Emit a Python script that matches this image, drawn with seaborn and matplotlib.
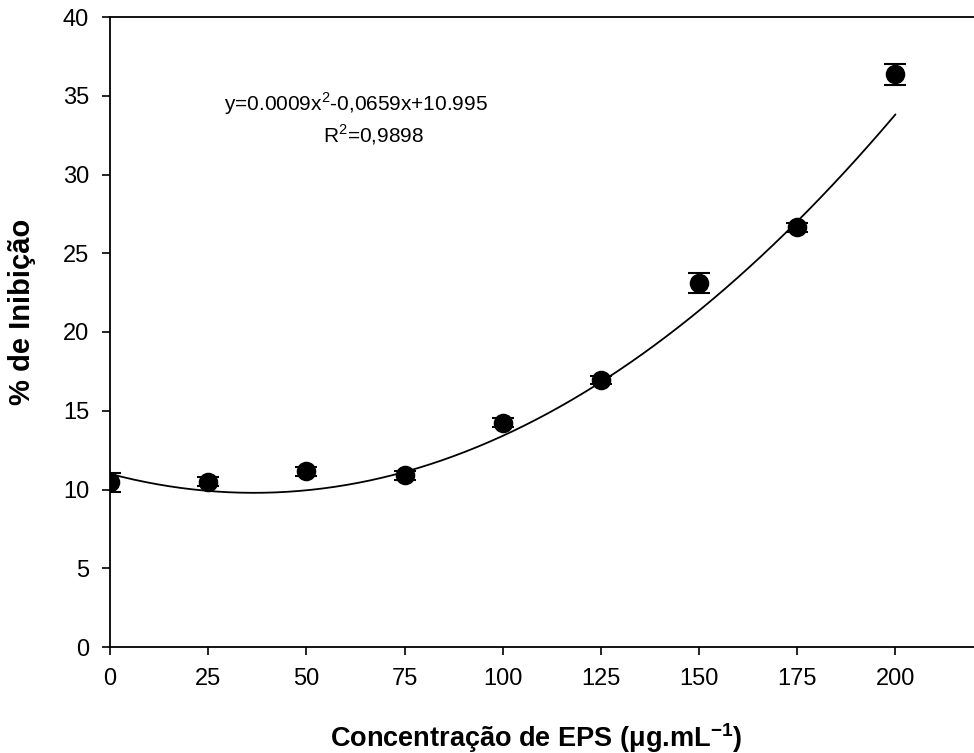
import matplotlib
matplotlib.use("Agg")
import matplotlib.pyplot as plt
import seaborn as sns
import numpy as np
import pandas as pd

conc = [0, 25, 50, 75, 100, 125, 150, 175, 200]
inhib = [10.45, 10.5, 11.15, 10.9, 14.25, 16.95, 23.1, 26.65, 36.35]
inhib_err = [0.6, 0.3, 0.3, 0.3, 0.3, 0.25, 0.65, 0.3, 0.65]

# quadratic fit as printed on the chart
fit_coef = [0.0009, -0.0659, 10.995]
fit_range = [0, 200]

xticks = [0, 25, 50, 75, 100, 125, 150, 175, 200]
yticks = [0, 5, 10, 15, 20, 25, 30, 35, 40]

sns.set_style("ticks")
plt.rcParams["font.family"] = ["Liberation Sans", "DejaVu Sans"]
plt.rcParams["text.color"] = "black"
plt.rcParams["axes.labelcolor"] = "black"
plt.rcParams["xtick.color"] = "black"
plt.rcParams["ytick.color"] = "black"
plt.rcParams["mathtext.fontset"] = "custom"
plt.rcParams["mathtext.rm"] = "Liberation Sans"
plt.rcParams["mathtext.bf"] = "Liberation Sans:bold"

df = pd.DataFrame({"conc": conc, "inhib": inhib, "err": inhib_err})

fig = plt.figure(figsize=(9.74, 7.53), dpi=100)
ax = fig.add_axes([110 / 974, 106 / 753, 864 / 974, 630 / 753])

xf = np.linspace(fit_range[0], fit_range[1], 200)
yf = np.polyval(fit_coef, xf)
sns.lineplot(x=xf, y=yf, color="black", linewidth=1.3, ax=ax)

ax.errorbar(df["conc"], df["inhib"], yerr=df["err"], fmt="none",
            ecolor="black", elinewidth=1.3, capsize=8, capthick=1.5, zorder=3)
sns.scatterplot(data=df, x="conc", y="inhib", color="black", s=170,
                edgecolor="black", zorder=4, ax=ax)

ax.set_xlim(0, 220)
ax.set_ylim(0, 40)
ax.set_xticks(xticks)
ax.set_yticks(yticks)
ax.tick_params(direction="out", length=6, width=1.2, labelsize=17, pad=9)
for s in ["left", "bottom", "top"]:
    ax.spines[s].set_visible(True)
    ax.spines[s].set_linewidth(1.3)
    ax.spines[s].set_color("black")
ax.spines["right"].set_visible(False)

ax.set_xlabel("Concentração de EPS (\u03bcg.mL$^{\\mathbf{-1}}$)", fontsize=19.5,
              fontweight="bold", va="center")
ax.set_ylabel("% de Inibição", fontsize=21, fontweight="bold", va="center")
ax.xaxis.set_label_coords(0.493, -0.144)
ax.yaxis.set_label_coords(-0.102, 0.532)

ax.text(62.5, 34.5, "y=0.0009x$^{2}$-0,0659x+10.995", fontsize=15,
        ha="center", va="center")
ax.text(67, 32.5, "R$^{2}$=0,9898", fontsize=15, ha="center", va="center")

fig.savefig("out.png", dpi=100)
